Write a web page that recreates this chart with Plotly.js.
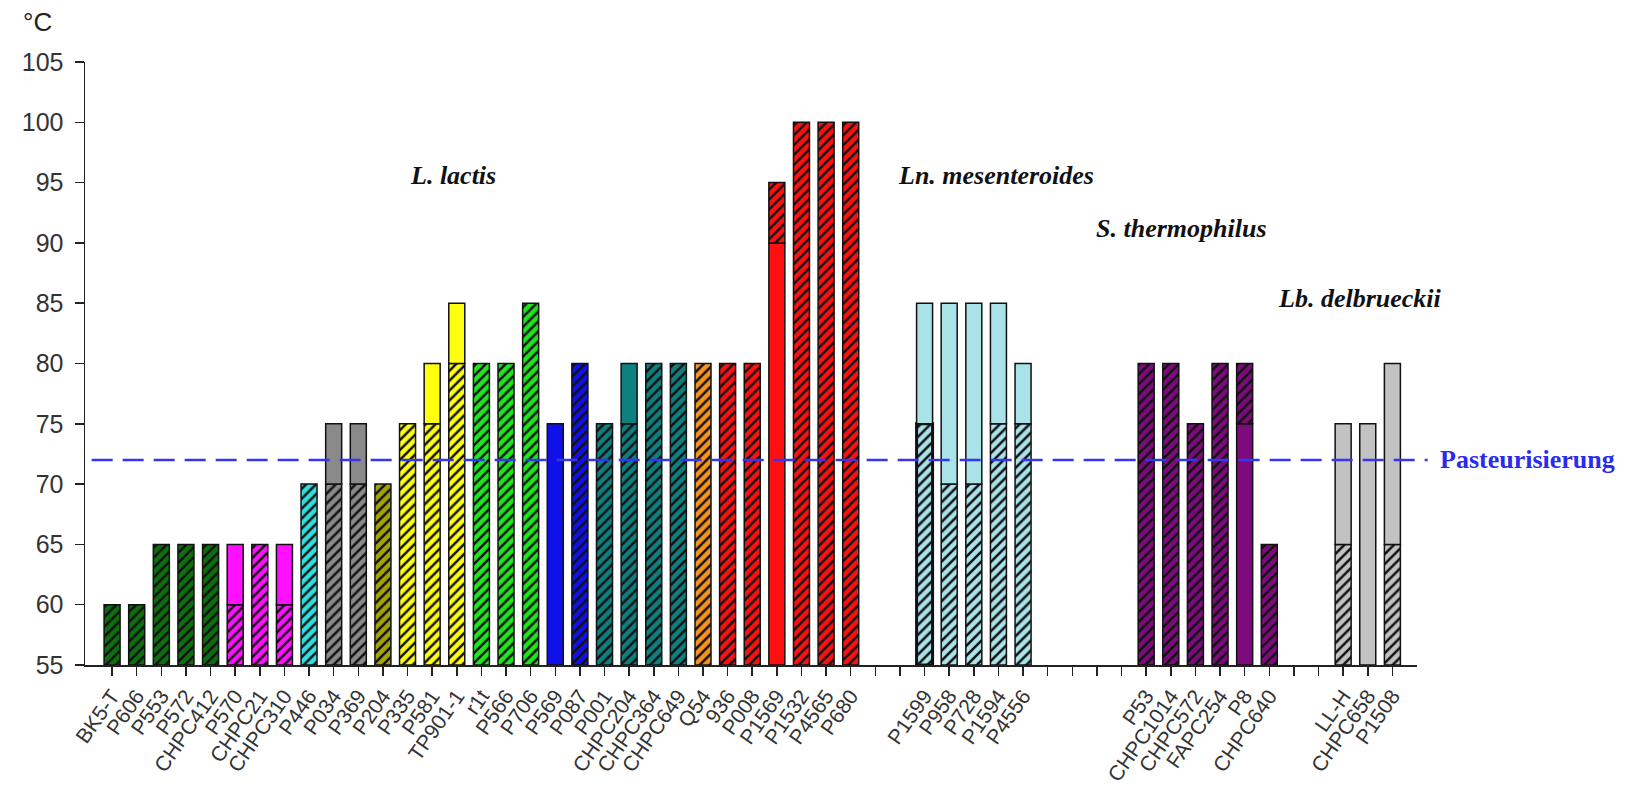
<!DOCTYPE html>
<html>
<head>
<meta charset="utf-8">
<script src="https://cdn.plot.ly/plotly-3.0.1.min.js"></script>
<style>
  html, body { margin: 0; padding: 0; background: #fff; }
  #chart { width: 1644px; height: 797px; }
</style>
</head>
<body>
<div id="chart"></div>
<script>
// Phage strains along the x axis; '' marks an empty slot between species groups.
const strains = [
  'BK5-T', 'P606', 'P553', 'P572', 'CHPC412', 'P570', 'CHPC21', 'CHPC310', 'P446',
  'P034', 'P369', 'P204', 'P335', 'P581', 'TP901-1', 'r1t', 'P566', 'P706', 'P569',
  'P087', 'P001', 'CHPC204', 'CHPC364', 'CHPC649', 'Q54', '936', 'P008', 'P1569',
  'P1532', 'P4565', 'P680',
  '', '',
  'P1599', 'P958', 'P728', 'P1594', 'P4556',
  '', '', '', '',
  'P53', 'CHPC1014', 'CHPC572', 'FAPC254', 'P8', 'CHPC640',
  '', '',
  'LL-H', 'CHPC658', 'P1508'
];

// Temperature (°C) reached by the lower segment of each bar.
const lowerTemp = [
  60, 60, 65, 65, 65, 60, 65, 60, 70,
  70, 70, 70, 75, 75, 80, 80, 80, 85, 75,
  80, 75, 75, 80, 80, 80, 80, 80, 90,
  100, 100, 100,
  null, null,
  75, 70, 70, 75, 75,
  null, null, null, null,
  80, 80, 75, 80, 75, 65,
  null, null,
  65, 75, 65
];

// Temperature (°C) reached by the upper segment (null = single segment).
const upperTemp = [
  null, null, null, null, null, 65, null, 65, null,
  75, 75, null, null, 80, 85, null, null, null, null,
  null, null, 80, null, null, null, null, null, 95,
  null, null, null,
  null, null,
  85, 85, 85, 85, 80,
  null, null, null, null,
  null, null, null, null, 80, null,
  null, null,
  75, null, 80
];

// Segment kind: 'h' = hatched, 's' = solid.
const lowerKind = [
  'h','h','h','h','h','h','h','h','h',
  'h','h','h','h','h','h','h','h','h','s',
  'h','h','h','h','h','h','h','h','s',
  'h','h','h',
  null, null,
  'h','h','h','h','h',
  null, null, null, null,
  'h','h','h','h','s','h',
  null, null,
  'h','s','h'
];
const upperKind = [
  null,null,null,null,null,'s',null,'s',null,
  's','s',null,null,'s','s',null,null,null,null,
  null,null,'s',null,null,null,null,null,'h',
  null,null,null,
  null, null,
  's','s','s','s','s',
  null, null, null, null,
  null,null,null,null,'h',null,
  null, null,
  's',null,'s'
];

// Fill colour of each strain's bar.
const barColors = [
  '#0d6f0d', '#0d6f0d', '#0d6f0d', '#0d6f0d', '#0d6f0d', '#ff10ff', '#ff10ff', '#ff10ff', '#30e0e0',
  '#8a8a8a', '#8a8a8a', '#a4a400', '#ffff10', '#ffff10', '#ffff10', '#1ee61e', '#1ee61e', '#1ee61e', '#1010e8',
  '#1010e8', '#0e8080', '#0e8080', '#0e8080', '#0e8080', '#f7941d', '#ff1010', '#ff1010', '#ff1010',
  '#ff1010', '#ff1010', '#ff1010',
  null, null,
  '#a9e2e9', '#a9e2e9', '#a9e2e9', '#a9e2e9', '#a9e2e9',
  null, null, null, null,
  '#7d0b7d', '#7d0b7d', '#7d0b7d', '#7d0b7d', '#7d0b7d', '#7d0b7d',
  null, null,
  '#c2c2c2', '#c2c2c2', '#c2c2c2'
];

// Species group labels and their anchor positions.
const speciesNames = ['L. lactis', 'Ln. mesenteroides', 'S. thermophilus', 'Lb. delbrueckii'];
const speciesX = [13.85, 35.9, 43.45, 50.7];
const speciesY = [95.6, 95.6, 91.2, 85.4];

// Pasteurisation reference temperature.
const pasteurTemp = 72;
const pasteurLabel = 'Pasteurisierung';

const axisMin = 55;
const positions = strains.map((_, i) => i);
const thickEdge = new Set(['P1599']);

// One bar segment per trace, so each keeps a single fill colour under its hatch.
function segment(i, base, top, kind, edgeWidth) {
  const hatched = kind === 'h';
  return {
    type: 'bar',
    x: [positions[i]], y: [top - base], base: [base],
    width: 0.65,
    name: strains[i],
    hovertemplate: strains[i] + ': ' + base + '–' + top + ' °C<extra></extra>',
    marker: {
      color: barColors[i],
      line: { color: '#111', width: edgeWidth },
      pattern: hatched
        ? { shape: '/', fillmode: 'replace', bgcolor: barColors[i], fgcolor: '#111',
            fgopacity: 1, size: 7, solidity: 0.36 }
        : { shape: '' }
    },
    showlegend: false
  };
}

const traces = [];
strains.forEach((s, i) => {
  if (lowerTemp[i] === null) return;
  traces.push(segment(i, axisMin, lowerTemp[i], lowerKind[i], thickEdge.has(s) ? 3 : 1.5));
  if (upperTemp[i] !== null) {
    traces.push(segment(i, lowerTemp[i], upperTemp[i], upperKind[i], 1.5));
  }
});

const fontSans = 'Arial, "Liberation Sans", sans-serif';
const fontSerif = '"Times New Roman", "Liberation Serif", serif';

const annotations = speciesNames.map((n, k) => ({
  x: speciesX[k], y: speciesY[k], xref: 'x', yref: 'y',
  text: '<b><i>' + n + '</i></b>', showarrow: false,
  font: { family: fontSerif, size: 26, color: '#111' }
}));
annotations.push({
  x: 1.0155, y: pasteurTemp, xref: 'paper', yref: 'y', xanchor: 'left',
  text: '<b>' + pasteurLabel + '</b>', showarrow: false,
  font: { family: fontSerif, size: 26, color: '#2a2af0' }
});
annotations.push({
  x: -0.048, y: 1.066, xref: 'paper', yref: 'paper', xanchor: 'left', yanchor: 'middle',
  text: '°C', showarrow: false,
  font: { family: fontSans, size: 26, color: '#222' }
});

const layout = {
  width: 1644, height: 797,
  paper_bgcolor: '#fff', plot_bgcolor: '#fff',
  margin: { l: 85, r: 227, t: 62, b: 132 },
  barmode: 'overlay',
  xaxis: {
    range: [-1.1, 53.0],
    tickmode: 'array', tickvals: positions, ticktext: strains,
    tickangle: -55,
    ticks: 'outside', ticklen: 9, tickwidth: 1.5, tickcolor: '#222',
    showline: true, linecolor: '#222', linewidth: 1.5,
    showgrid: false, zeroline: false,
    tickfont: { family: fontSans, size: 21, color: '#333' }
  },
  yaxis: {
    range: [55, 105], dtick: 5, tick0: 55,
    ticks: 'outside', ticklen: 9, tickwidth: 1.5, tickcolor: '#222',
    showline: true, linecolor: '#222', linewidth: 1.5,
    showgrid: false, zeroline: false,
    ticklabelstandoff: 6,
    tickfont: { family: fontSans, size: 25, color: '#333' }
  },
  shapes: [{
    type: 'line', layer: 'above',
    xref: 'paper', x0: 0.005, x1: 1.008,
    yref: 'y', y0: pasteurTemp, y1: pasteurTemp,
    line: { color: '#3535f5', width: 2.5, dash: '21px,10px' }
  }],
  annotations: annotations
};

Plotly.newPlot('chart', traces, layout, { displayModeBar: false, staticPlot: true });
</script>
</body>
</html>
